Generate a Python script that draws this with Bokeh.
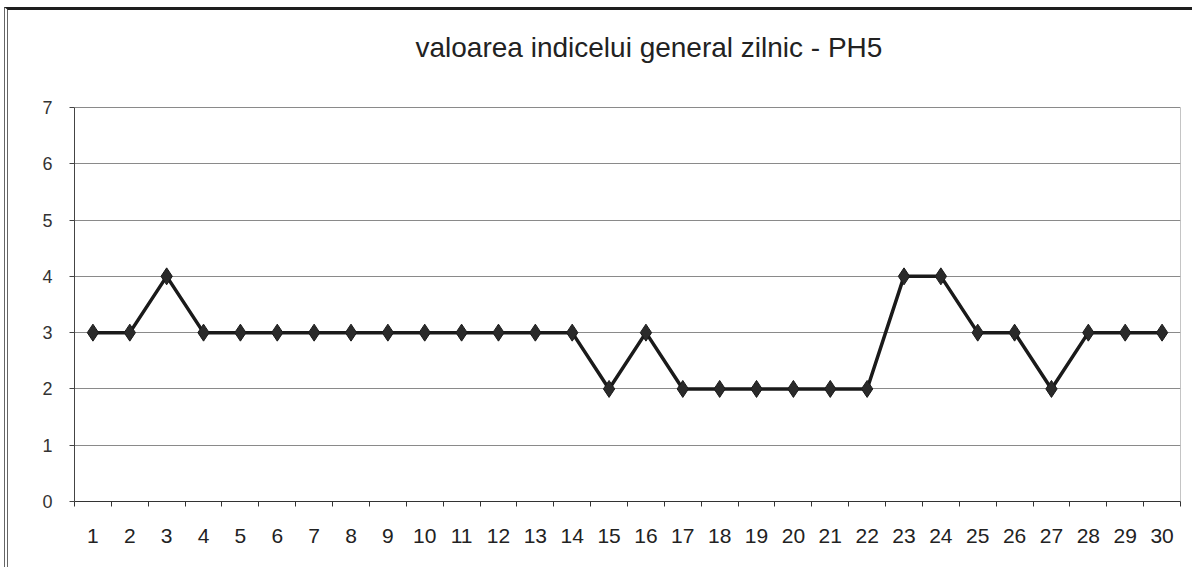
from bokeh.plotting import figure
from bokeh.models import Range1d, FixedTicker, Label
from bokeh.embed import file_html
from bokeh.resources import INLINE

title_text = "valoarea indicelui general zilnic - PH5"
days = [1, 2, 3, 4, 5, 6, 7, 8, 9, 10, 11, 12, 13, 14, 15,
        16, 17, 18, 19, 20, 21, 22, 23, 24, 25, 26, 27, 28, 29, 30]
values = [3, 3, 4, 3, 3, 3, 3, 3, 3, 3, 3, 3, 3, 3, 2,
          3, 2, 2, 2, 2, 2, 2, 4, 4, 3, 3, 2, 3, 3, 3]
y_ticks = [0, 1, 2, 3, 4, 5, 6, 7]

FONT = "Liberation Sans"

# frame extends above the value area so the title can sit inside it
PLOT_H = 394          # pixel height of the 0..7 value area
FRAME_H = 491         # full frame height
y_top = y_ticks[-1] * FRAME_H / PLOT_H
x_lo = days[0] - 0.5
x_hi = days[-1] + 0.5

p = figure(width=1188, height=560, output_backend="svg", toolbar_location=None,
           x_range=Range1d(x_lo, x_hi), y_range=Range1d(0, y_top),
           min_border_left=66, min_border_right=16, min_border_top=0, min_border_bottom=69)

p.styles = {"border-top": "3px solid #1e1e1e", "border-left": "4px double #666666",
            "margin-top": "7px", "margin-left": "4px"}

p.background_fill_color = "white"
p.border_fill_color = "white"
p.outline_line_color = None

p.xgrid.visible = False
p.ygrid.ticker = FixedTicker(ticks=y_ticks)
p.ygrid.grid_line_color = "#8a8a8a"
p.ygrid.grid_line_width = 1

xa = p.xaxis[0]
xa.ticker = FixedTicker(ticks=days, minor_ticks=[d - 0.5 for d in days] + [x_hi])
xa.major_tick_out = 0
xa.major_tick_in = 0
xa.minor_tick_out = 5
xa.minor_tick_in = 0
xa.minor_tick_line_color = "#333333"
xa.axis_line_color = "#333333"
xa.major_label_text_font = FONT
xa.major_label_text_font_size = "21px"
xa.major_label_text_color = "#222222"
xa.major_label_standoff = 22

ya = p.yaxis[0]
ya.ticker = FixedTicker(ticks=y_ticks)
ya.bounds = (y_ticks[0], y_ticks[-1])
ya.major_tick_out = 5
ya.major_tick_in = 0
ya.minor_tick_out = 0
ya.minor_tick_in = 0
ya.axis_line_color = "#444444"
ya.major_tick_line_color = "#444444"
ya.major_label_text_font = FONT
ya.major_label_text_font_size = "18px"
ya.major_label_text_color = "#333333"
ya.major_label_standoff = 17

# right edge of the plot area
p.segment(x0=[x_hi], y0=[y_ticks[0]], x1=[x_hi], y1=[y_ticks[-1]],
          line_color="#8a8a8a", line_width=1)

p.line(days, values, line_color="#1a1a1a", line_width=3.5)
p.scatter(days, values, marker="diamond", size=17, fill_color="#2a2a2a",
          line_color="#1a1a1a", line_width=1)

p.add_layout(Label(x=341, y=454, x_units="screen", y_units="screen", text=title_text,
                   text_font=FONT, text_font_size="28px", text_color="#222222",
                   text_align="left", text_baseline="middle"))

open("out.html", "w").write(file_html(p, INLINE))
